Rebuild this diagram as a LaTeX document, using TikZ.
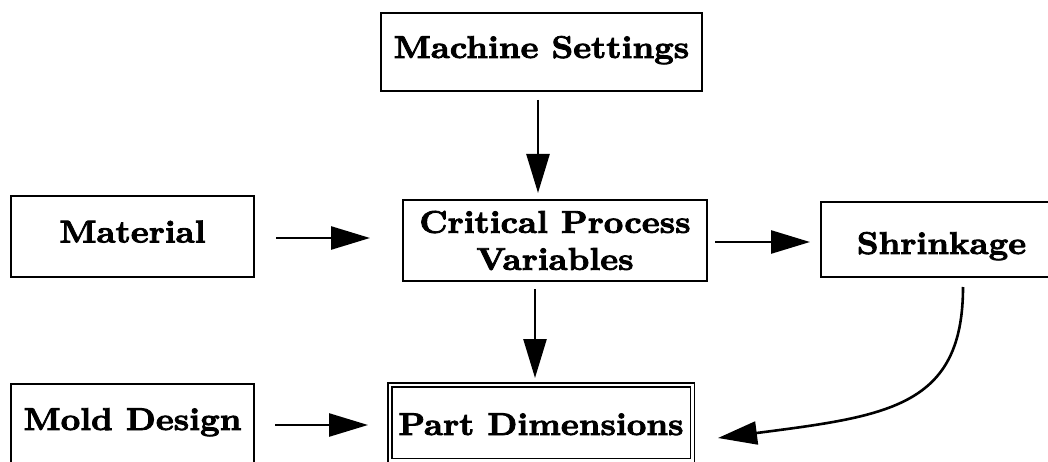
\documentclass[tikz,border=0pt]{standalone}
\usepackage{fontspec}
\newfontfamily\boxfont{lmroman10-bold}[Extension=.otf, FakeStretch=1.08, FakeBold=2.6]
\usetikzlibrary{arrows.meta}
\begin{document}
\begin{tikzpicture}[x=1pt,y=-1pt,
  box/.style={draw, line width=2pt, inner sep=0pt, outer sep=0pt,
    font=\boxfont\fontsize{31.5}{37}\selectfont, text height=16pt, text depth=4pt},
  arr/.style={line width=2.6pt, -{Triangle[length=39pt,width=23pt]}}]
\useasboundingbox (0,0) rectangle (1048,462);
\node[box, minimum width=321pt, minimum height=78pt] (ms) at (541.5,52) {Machine Settings};
\node[box, minimum width=243pt, minimum height=81pt] (mat) at (132.5,236.5) {Material};
\node[box, minimum width=304pt, minimum height=81pt, align=center, text height=, text depth=] (cpv) at (555,240.5) {Critical Process\\Variables};
\node[box, minimum width=241pt, minimum height=75pt, text height=29pt, text depth=0pt] (sh) at (941.5,239.5) {Shrinkage};
\node[box, minimum width=243pt, minimum height=80pt, text height=16pt, text depth=4pt] (md) at (132.5,424) {Mold Design};
\node[box, line width=1.5pt, double, double distance=2.5pt, minimum width=302.5pt, minimum height=75.5pt, text height=25pt, text depth=0pt] (pd) at (541,422.5) {Part Dimensions};
\draw[arr] ([xshift=-3.5pt,yshift=-9pt]ms.south) -- ([xshift=-17pt,yshift=7pt]cpv.north);
\draw[arr] ([xshift=-20pt,yshift=-8pt]cpv.south) -- ([xshift=-6pt,yshift=6.75pt]pd.north);
\draw[arr] ([xshift=22pt,yshift=-1.5pt]mat.east) -- ([xshift=-33pt,yshift=2.5pt]cpv.west);
\draw[arr] ([xshift=21pt,yshift=-1pt]md.east) -- ([xshift=-21.75pt,yshift=-2.5pt]pd.west);
\draw[arr] ([xshift=8pt,yshift=-1.5pt]cpv.east) -- ([xshift=-11pt,yshift=-2.5pt]sh.west);
\draw[arr] ([xshift=21.5pt,yshift=-10pt]sh.south) .. controls +(0,120) and +(170,-22) .. ([xshift=25.75pt,yshift=-15.5pt]pd.east);
\end{tikzpicture}
\end{document}
